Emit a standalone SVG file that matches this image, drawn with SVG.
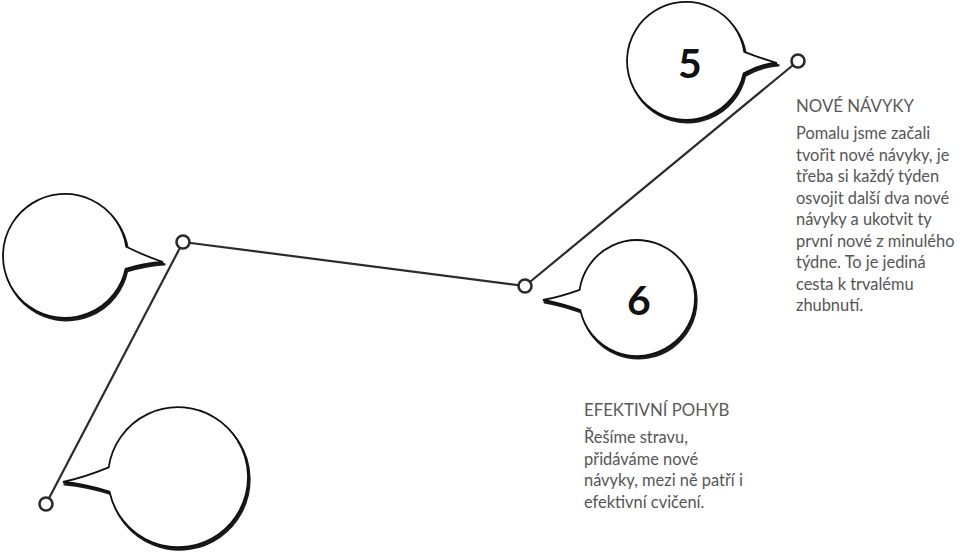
<svg xmlns="http://www.w3.org/2000/svg" width="960" height="557" viewBox="0 0 960 557">
<style>
.sh{fill:#1a1a1a;stroke:#1a1a1a;stroke-width:2.2;stroke-linejoin:round}
.bb{fill:#fff;stroke:#111;stroke-width:1.8;stroke-linejoin:miter}
.ln{stroke:#2b2b2b;stroke-width:2.2;fill:none}
.nd{fill:#fff;stroke:#2b2b2b;stroke-width:2.6}
.num{font-family:Lato,"Open Sans",sans-serif;font-weight:bold;font-size:41px;fill:#111;text-anchor:middle}
.ttl{font-family:Lato,"Open Sans",sans-serif;font-size:16.8px;fill:#5a5a5a}
.txt{font-family:Lato,"Open Sans",sans-serif;font-size:16.4px;fill:#555}
</style>
<rect width="960" height="557" fill="#fff"/>
<g id="bubble-5">
<path class="sh" transform="translate(1.5,2.4)" d="M744.3,51.8 Q760,58 777,63 Q760,64 743.7,73.3 A59,59 0 1 1 744.3,51.8 Z"/>
<path class="bb" d="M744.3,51.8 Q760,58 777,63 Q760,64 743.7,73.3 A59,59 0 1 1 744.3,51.8 Z"/>
<text class="num" x="690" y="78">5</text>
</g>
<g id="bubble-6">
<path class="sh" transform="translate(1.5,2.4)" d="M579.6,289.9 Q560,297 543,300 Q560,303 580.3,310.1 A58,58 0 1 0 579.6,289.9 Z"/>
<path class="bb" d="M579.6,289.9 Q560,297 543,300 Q560,303 580.3,310.1 A58,58 0 1 0 579.6,289.9 Z"/>
<text class="num" x="639" y="315">6</text>
</g>
<g id="bubble-left">
<path class="sh" transform="translate(1.5,2.4)" d="M126.3,246.8 Q145,256 163,262 Q145,263 125.6,268.9 A62,62 0 1 1 126.3,246.8 Z"/>
<path class="bb" d="M126.3,246.8 Q145,256 163,262 Q145,263 125.6,268.9 A62,62 0 1 1 126.3,246.8 Z"/>
</g>
<g id="bubble-bottom">
<path class="sh" transform="translate(1.5,2.4)" d="M108.7,467.3 Q85,477 63,482 Q85,484 109.5,491.6 A70,70 0 1 0 108.7,467.3 Z"/>
<path class="bb" d="M108.7,467.3 Q85,477 63,482 Q85,484 109.5,491.6 A70,70 0 1 0 108.7,467.3 Z"/>
</g>
<g id="connectors">
<line class="ln" x1="183" y1="242" x2="525" y2="286"/>
<line class="ln" x1="525" y1="286" x2="798" y2="61"/>
<line class="ln" x1="183" y1="242" x2="46" y2="504"/>
</g>
<g id="node-5"><circle class="nd" cx="798" cy="61" r="6.5"/></g>
<g id="node-6"><circle class="nd" cx="525" cy="286" r="6.5"/></g>
<g id="node-left"><circle class="nd" cx="183" cy="242" r="6.5"/></g>
<g id="node-bottom"><circle class="nd" cx="46" cy="504" r="6.5"/></g>
<g id="text-nove-navyky">
<text class="ttl" x="796" y="112">NOVÉ NÁVYKY</text>
<text class="txt" x="796" y="139">Pomalu jsme začali</text>
<text class="txt" x="796" y="160.5">tvořit nové návyky, je</text>
<text class="txt" x="796" y="182">třeba si každý týden</text>
<text class="txt" x="796" y="203.5">osvojit další dva nové</text>
<text class="txt" x="796" y="225">návyky a ukotvit ty</text>
<text class="txt" x="796" y="246.5">první nové z minulého</text>
<text class="txt" x="796" y="268">týdne. To je jediná</text>
<text class="txt" x="796" y="289.5">cesta k trvalému</text>
<text class="txt" x="796" y="311">zhubnutí.</text>
</g>
<g id="text-efektivni-pohyb">
<text class="ttl" x="584" y="416">EFEKTIVNÍ POHYB</text>
<text class="txt" x="584" y="443">Řešíme stravu,</text>
<text class="txt" x="584" y="464.5">přidáváme nové</text>
<text class="txt" x="584" y="486">návyky, mezi ně patří i</text>
<text class="txt" x="584" y="507.5">efektivní cvičení.</text>
</g>
</svg>
